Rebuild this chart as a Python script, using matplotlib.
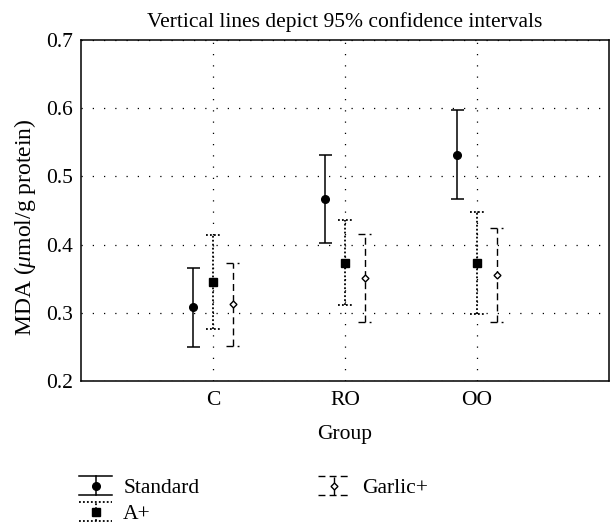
import numpy as np
import matplotlib
matplotlib.use("Agg")
import matplotlib.pyplot as plt
from matplotlib.lines import Line2D
from matplotlib.legend_handler import HandlerBase

plt.rcParams['font.family'] = ['Liberation Serif', 'DejaVu Serif']
plt.rcParams['mathtext.fontset'] = 'custom'
plt.rcParams['mathtext.it'] = 'Liberation Serif:italic'
plt.rcParams['mathtext.rm'] = 'Liberation Serif'
plt.rcParams['font.size'] = 15.5

groups = ['C', 'RO', 'OO']
series = ['Standard', 'A+', 'Garlic+']

# means and 95% CI bounds, one row per series, one column per group
means = {
    'Standard': [0.308, 0.467, 0.532],
    'A+':       [0.345, 0.373, 0.373],
    'Garlic+':  [0.313, 0.351, 0.355],
}
lower = {
    'Standard': [0.250, 0.402, 0.467],
    'A+':       [0.276, 0.312, 0.298],
    'Garlic+':  [0.251, 0.286, 0.286],
}
upper = {
    'Standard': [0.366, 0.532, 0.597],
    'A+':       [0.414, 0.436, 0.448],
    'Garlic+':  [0.373, 0.416, 0.425],
}

styles = {
    'Standard': dict(offset=-0.15, ls='-', lw=1.1, marker='o', ms=5.5, mfc='black'),
    'A+':       dict(offset=0.0, ls=(0, (1, 1.2)), lw=1.3, marker='s', ms=5.5, mfc='black'),
    'Garlic+':  dict(offset=0.15, ls=(0, (5, 3)), lw=1.0, marker='D', ms=3.5, mfc='white'),
}

fig = plt.figure(figsize=(6.11, 5.25), dpi=100)
ax = fig.add_axes([81 / 611, 1 - 381 / 525, 528 / 611, 341 / 525])

x = np.arange(1, len(groups) + 1)
cap = 0.05

for s in series:
    st = styles[s]
    xs = x + st['offset']
    ax.vlines(xs, lower[s], upper[s], colors='black', linestyles=[st['ls']],
              linewidth=st['lw'], zorder=3)
    ax.hlines(lower[s], xs - cap, xs + cap, colors='black', linestyles=[st['ls']],
              linewidth=st['lw'], zorder=3)
    ax.hlines(upper[s], xs - cap, xs + cap, colors='black', linestyles=[st['ls']],
              linewidth=st['lw'], zorder=3)
    ax.plot(xs, means[s], linestyle='none', marker=st['marker'], ms=st['ms'],
            mfc=st['mfc'], mec='black', mew=1.0, color='black', zorder=4)

ax.set_xlim(0, 4)
ax.set_ylim(0.2, 0.7)
ax.set_xticks(x)
ax.set_xticklabels(groups)
ax.set_yticks([0.2, 0.3, 0.4, 0.5, 0.6, 0.7])
ax.set_yticklabels(['0.2', '0.3', '0.4', '0.5', '0.6', '0.7'])
ax.tick_params(length=0, labelsize=15.5)
ax.tick_params(axis='y', pad=6)
ax.tick_params(axis='x', pad=7)
ax.grid(True, color='black', linestyle=(0, (1, 8)), linewidth=0.9)
for sp in ax.spines.values():
    sp.set_linewidth(1.1)

ax.set_title('Vertical lines depict 95% confidence intervals', fontsize=15.5, pad=9)
ax.set_xlabel('Group', labelpad=11)
ax.set_ylabel(r'MDA ($\mu$mol/g protein)', fontsize=17, labelpad=8)
ax.yaxis.set_label_coords(-0.082, 0.45)


class CIHandler(HandlerBase):
    def __init__(self, st):
        super().__init__()
        self.st = st

    def create_artists(self, legend, orig_handle, xdescent, ydescent, width, height,
                       fontsize, trans):
        st = self.st
        cx = width / 2 - xdescent
        y0 = -ydescent - 2
        y1 = height - ydescent + 2
        cy = (y0 + y1) / 2
        arts = [
            Line2D([-xdescent, width - xdescent], [y1, y1], ls=st['ls'], lw=st['lw'], color='black'),
            Line2D([-xdescent, width - xdescent], [y0, y0], ls=st['ls'], lw=st['lw'], color='black'),
            Line2D([cx, cx], [y0, y1], ls=st['ls'], lw=st['lw'], color='black'),
            Line2D([cx], [cy], ls='none', marker=st['marker'], ms=st['ms'],
                   mfc=st['mfc'], mec='black', mew=1.0),
        ]
        for a in arts:
            a.set_transform(trans)
        return arts


handles = [Line2D([], [], label=s) for s in series]
fig.legend(handles=handles, labels=series, loc='upper left',
           bbox_to_anchor=(79 / 611, 1 - 479 / 525), ncol=2, frameon=False,
           borderpad=0, borderaxespad=0,
           handler_map={h: CIHandler(styles[s]) for h, s in zip(handles, series)},
           handlelength=1.55, handleheight=0.6, handletextpad=0.5,
           labelspacing=0.3, columnspacing=5.5, fontsize=15.5)

fig.savefig('out.png', dpi=100)
